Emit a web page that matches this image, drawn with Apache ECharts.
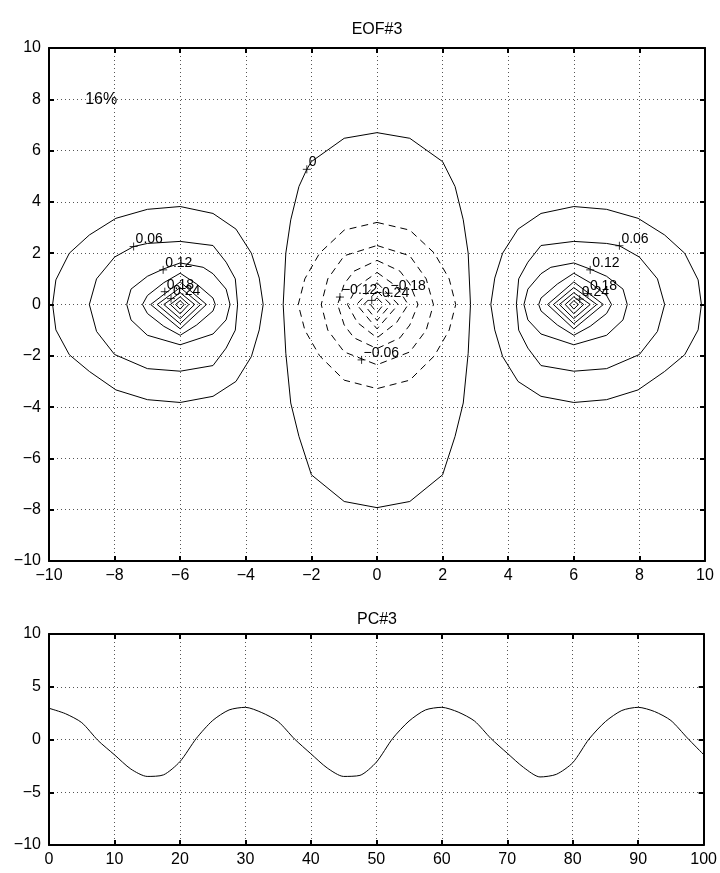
<!DOCTYPE html>
<html>
<head>
<meta charset="utf-8">
<script src="https://cdn.jsdelivr.net/npm/echarts@6/dist/echarts.min.js"></script>
<style>
  html, body { margin: 0; padding: 0; background: #fff; }
  #main { width: 720px; height: 873px; }
</style>
</head>
<body>
<div id="main"></div>
<script>
// EOF#3 contour rings (x, y in axis units)
// left positive blob, outer -> inner
var leftRings = [
  [[-6,3.82],[-5,3.55],[-4.3,2.94],[-3.83,2],[-3.59,1.03],[-3.47,0],[-3.59,-0.99],[-3.83,-2.03],[-4.3,-3],[-5,-3.58],[-6,-3.82],[-7,-3.71],[-7.96,-3.33],[-8.77,-2.61],[-9.38,-1.96],[-9.79,-0.99],[-9.89,0],[-9.79,0.96],[-9.38,2],[-8.77,2.71],[-7.96,3.36],[-7,3.71]],
  [[-6,2.46],[-5,2.3],[-4.6,1.65],[-4.32,1],[-4.25,0],[-4.32,-1],[-4.6,-1.7],[-5,-2.38],[-6,-2.6],[-7,-2.5],[-8,-1.95],[-8.55,-1.05],[-8.77,0],[-8.55,1],[-8,1.85],[-7.42,2.26],[-7,2.38]],
  [[-6,1.62],[-5.3,1.45],[-5,1.2],[-4.6,0.6],[-4.48,0],[-4.6,-0.6],[-5,-1.15],[-6,-1.57],[-7,-1.2],[-7.5,-0.6],[-7.63,0],[-7.5,0.6],[-7,1.1],[-6.52,1.38]],
  [[-6,1.22],[-5.5,0.8],[-5,0.25],[-4.93,0],[-5,-0.25],[-5.5,-0.8],[-6,-1.2],[-6.5,-0.85],[-7,-0.35],[-7.15,0],[-7,0.35],[-6.5,0.85]],
  [[-6,0.88],[-5.2,0],[-6,-0.95],[-6.9,0]],
  [[-6,0.66],[-5.38,0],[-6,-0.75],[-6.7,0]],
  [[-6,0.46],[-5.56,0],[-6,-0.55],[-6.5,0]],
  [[-6,0.3],[-5.74,0],[-6,-0.36],[-6.3,0]],
  [[-6,0.15],[-5.88,0],[-6,-0.18],[-6.14,0]]
];

// right positive blob, outer -> inner
var rightRings = [
  [[6,3.82],[5,3.55],[4.3,2.94],[3.83,2],[3.59,1.03],[3.47,0],[3.59,-0.99],[3.83,-2.03],[4.3,-3],[5,-3.58],[6,-3.82],[7,-3.71],[7.96,-3.33],[8.77,-2.61],[9.38,-1.96],[9.79,-0.99],[9.89,0],[9.79,0.96],[9.38,2],[8.77,2.71],[7.96,3.36],[7,3.71]],
  [[6,2.46],[5,2.3],[4.6,1.65],[4.32,1],[4.25,0],[4.32,-1],[4.6,-1.7],[5,-2.38],[6,-2.6],[7,-2.5],[8,-1.95],[8.55,-1.05],[8.77,0],[8.55,1],[8,1.85],[7.39,2.29],[7,2.38]],
  [[6,1.62],[5.3,1.45],[5,1.2],[4.6,0.6],[4.48,0],[4.6,-0.6],[5,-1.15],[6,-1.57],[7,-1.2],[7.5,-0.6],[7.63,0],[7.5,0.6],[7,1.1],[6.5,1.38]],
  [[6,1.22],[5.5,0.8],[5,0.25],[4.93,0],[5,-0.25],[5.5,-0.8],[6,-1.2],[6.5,-0.85],[7,-0.35],[7.15,0],[7,0.35],[6.5,0.85]],
  [[6,0.88],[5.2,0],[6,-0.95],[6.9,0]],
  [[6,0.66],[5.38,0],[6,-0.75],[6.7,0]],
  [[6,0.46],[5.56,0],[6,-0.55],[6.5,0]],
  [[6,0.3],[5.74,0],[6,-0.36],[6.3,0]],
  [[6,0.15],[5.88,0],[6,-0.18],[6.14,0]]
];

// zero contour round the negative centre
var zeroRing = [[0,6.7],[1,6.48],[2,5.57],[2.38,4.6],[2.63,3.3],[2.78,2],[2.85,0],[2.78,-1.9],[2.63,-3.84],[2.38,-5.14],[2,-6.64],[1,-7.68],[0,-7.92],[-1,-7.68],[-2,-6.64],[-2.38,-5.14],[-2.63,-3.84],[-2.78,-1.9],[-2.86,0],[-2.78,2],[-2.63,3.3],[-2.38,4.6],[-2.14,5.27],[-2,5.57],[-1,6.48]];

// negative centre, dashed, outer -> inner
var negRings = [
  [[0,3.2],[1,2.9],[1.75,2],[2.2,1],[2.4,0],[2.2,-1],[1.75,-2],[1,-2.95],[0,-3.28],[-1,-2.95],[-1.75,-2],[-2.2,-1],[-2.4,0],[-2.2,1],[-1.75,2],[-1,2.9]],
  [[0,2.3],[1,1.9],[1.5,1],[1.72,0],[1.5,-1],[1,-1.85],[0,-2.35],[-1,-1.85],[-1.5,-1],[-1.7,0],[-1.5,1],[-1,1.9]],
  [[0,1.72],[0.7,1.3],[1,0.8],[1.25,0],[1,-0.8],[0.7,-1.3],[0,-1.72],[-0.7,-1.3],[-1,-0.8],[-1.2,0],[-1,0.8],[-0.7,1.3]],
  [[0,1.25],[0.6,0.7],[0.95,0],[0.6,-0.7],[0,-1.3],[-0.6,-0.7],[-0.9,0],[-0.6,0.7]],
  [[0,0.85],[0.65,0],[0,-0.95],[-0.62,0]],
  [[0,0.52],[0.42,0],[0,-0.62],[-0.4,0]],
  [[0,0.26],[0.2,0],[0,-0.32],[-0.2,0]]
];

// clabel marks
var labelTexts = ['0.06','0.12','0.18','0.24','0.06','0.12','0.18','0.24','0','\u22120.12','\u22120.24','\u22120.18','\u22120.06'];
var labelPoints = [[-7.42,2.26],[-6.52,1.35],[-6.47,0.5],[-6.28,0.23],[7.39,2.29],[6.5,1.35],[6.43,0.43],[6.18,0.21],[-2.14,5.27],[-1.13,0.29],[-0.16,0.16],[0.35,0.44],[-0.47,-2.16]];

// explained-variance note and where it sits
var noteText = '16%';
var notePoint = [-8.41, 8];

// PC#3 time series
var pcT = [0,2.5,5,7.5,10,12.5,15,17.5,20,22.5,25,27.5,30,32.5,35,37.5,40,42.5,45,47.5,50,52.5,55,57.5,60,62.5,65,67.5,70,72.5,75,77.5,80,82.5,85,87.5,90,92.5,95,97.5,100];
var pcV = [2.96,2.45,1.6,-0.1,-1.45,-2.8,-3.5,-3.35,-2.1,0.1,1.8,2.8,3.05,2.55,1.7,0.05,-1.35,-2.7,-3.5,-3.4,-2.15,0.1,1.75,2.8,3.05,2.6,1.75,0.1,-1.3,-2.65,-3.55,-3.3,-2.2,0.05,1.7,2.75,3.05,2.65,1.8,0.15,-1.43];

var chart = echarts.init(document.getElementById('main'));
var FONT = '"Liberation Sans", Arial, sans-serif';
var minus = function (v) { return String(v).replace('-', '\u2212'); };

function axisPair(gridIndex, dim, min, max, step) {
  var line = { show: true, onZero: false, lineStyle: { color: '#000', width: 2 } };
  var tick = { show: true, inside: true, length: 5, lineStyle: { color: '#000', width: 2 } };
  var main = {
    type: 'value', gridIndex: gridIndex, min: min, max: max, interval: step,
    position: dim === 'x' ? 'bottom' : 'left',
    axisLine: line, axisTick: tick,
    axisLabel: { color: '#000', fontSize: 16, fontFamily: FONT, margin: dim === 'x' ? 7 : 8, formatter: minus },
    splitLine: { show: true, lineStyle: { color: '#555', width: 1, type: [1, 3] } }
  };
  var other = {
    type: 'value', gridIndex: gridIndex, min: min, max: max, interval: step,
    position: dim === 'x' ? 'top' : 'right',
    axisLine: line, axisTick: tick,
    axisLabel: { show: false }, splitLine: { show: false }
  };
  return [main, other];
}

var series = [];
function addRing(ring, dashed) {
  series.push({
    type: 'line', xAxisIndex: 0, yAxisIndex: 0,
    data: ring.concat([ring[0]]),
    symbol: 'none', silent: true, animation: false,
    lineStyle: { color: '#000', width: 1, type: dashed ? [7, 5] : 'solid' }
  });
}
leftRings.forEach(function (r) { addRing(r, false); });
rightRings.forEach(function (r) { addRing(r, false); });
addRing(zeroRing, false);
negRings.forEach(function (r) { addRing(r, true); });

// "+" marks of the contour labels
series.push({
  type: 'scatter', xAxisIndex: 0, yAxisIndex: 0, silent: true, animation: false, z: 5,
  symbol: 'path://M0,5L10,5M5,0L5,10', symbolSize: 8,
  itemStyle: { color: '#000', borderColor: '#000', borderWidth: 1 },
  data: labelPoints
});

series.push({
  type: 'line', xAxisIndex: 2, yAxisIndex: 2, silent: true, animation: false,
  data: pcT.map(function (t, i) { return [t, pcV[i]]; }),
  symbol: 'none', smooth: 0.25,
  lineStyle: { color: '#000', width: 1 }
});

var xTop = axisPair(0, 'x', -10, 10, 2);
var yTop = axisPair(0, 'y', -10, 10, 2);
var xBot = axisPair(1, 'x', 0, 100, 10);
var yBot = axisPair(1, 'y', -10, 10, 5);

chart.setOption({
  backgroundColor: '#fff',
  textStyle: { fontFamily: FONT },
  grid: [
    { left: 49, right: 15, top: 48, bottom: 312 },
    { left: 49, right: 15, top: 634, bottom: 28 }
  ],
  xAxis: xTop.concat(xBot),
  yAxis: yTop.concat(yBot),
  series: series
});

// texts placed through the axes' own scale
function txt(p, s, size, align) {
  return { type: 'text', x: p[0], y: p[1], z: 10, silent: true,
    style: { text: s, align: align, verticalAlign: 'middle', font: size + 'px ' + FONT, fill: '#000' } };
}
var texts = [txt([377, 30], 'EOF#3', 16, 'center'), txt([377, 620], 'PC#3', 16, 'center')];
var np = chart.convertToPixel({ xAxisIndex: 0, yAxisIndex: 0 }, notePoint);
texts.push(txt(np, noteText, 16, 'center'));
labelPoints.forEach(function (p, i) {
  var q = chart.convertToPixel({ xAxisIndex: 0, yAxisIndex: 0 }, p);
  texts.push(txt([q[0] + 2, q[1] - 7], labelTexts[i], 14, 'left'));
});
chart.setOption({ graphic: texts });
</script>
</body>
</html>
